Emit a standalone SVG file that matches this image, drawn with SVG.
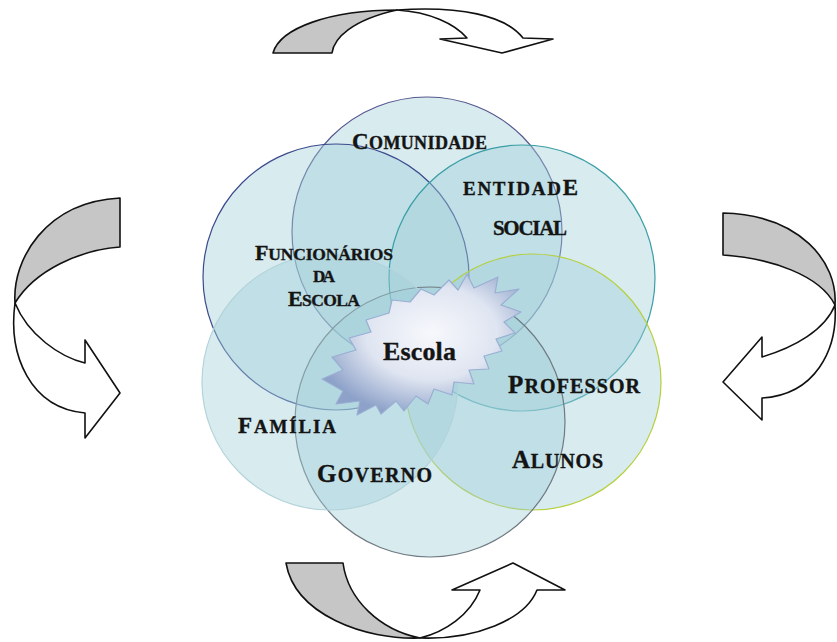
<svg xmlns="http://www.w3.org/2000/svg" width="837" height="642" viewBox="0 0 837 642">
  <defs>
    <radialGradient id="burst" cx="0.55" cy="0.42" r="0.6">
      <stop offset="0" stop-color="#f7f8fc"/>
      <stop offset="0.55" stop-color="#dfe5f1"/>
      <stop offset="1" stop-color="#8ea2c9"/>
    </radialGradient>
  </defs>
  <style>
    .ring { fill: #a3d0da; fill-opacity: 0.42; stroke-width: 1.2; }
    .lbl { font-family: "Liberation Serif", "Times New Roman", serif; font-weight: bold; fill: #141414; stroke: #141414; stroke-width: 0.35; }
    .back { fill: #c6c6c6; stroke: #111; stroke-width: 1.6; stroke-linejoin: round; }
    .front { fill: #fff; stroke: #111; stroke-width: 1.6; stroke-linejoin: round; }
  </style>
  <rect width="837" height="642" fill="#fff"/>

  <!-- overlapping circles of the school community -->
  <g id="comunidade">
    <circle class="ring" cx="427" cy="232" r="135" stroke="#55578f"/>
  </g>
  <g id="funcionarios">
    <circle class="ring" cx="336" cy="277" r="133" stroke="#3b4a8c"/>
  </g>
  <g id="entidade-social">
    <circle class="ring" cx="522" cy="278" r="133" stroke="#3a9ea6"/>
  </g>
  <g id="professor-alunos">
    <circle class="ring" cx="533" cy="382" r="128" stroke="#b5cf3c"/>
  </g>
  <g id="governo">
    <circle class="ring" cx="430" cy="422" r="135" stroke="#6f7a82"/>
  </g>
  <g id="familia">
    <circle class="ring" cx="330" cy="382" r="128" stroke="#b3d3da"/>
  </g>

  <!-- labels -->
  <g id="labels">
    <text class="lbl" x="352" y="149" textLength="135"><tspan font-size="23">C</tspan><tspan font-size="18">OMUNIDADE</tspan></text>
    <text class="lbl" x="463" y="195" textLength="115"><tspan font-size="19">ENTIDAD</tspan><tspan font-size="23">E</tspan></text>
    <text class="lbl" x="493" y="235" font-size="21" textLength="74">SOCIAL</text>
    <text class="lbl" x="255" y="260" textLength="138"><tspan font-size="22">F</tspan><tspan font-size="17.5">UNCIONÁRIOS</tspan></text>
    <text class="lbl" x="313" y="282" font-size="17" textLength="22">DA</text>
    <text class="lbl" x="288" y="306" textLength="72"><tspan font-size="22">E</tspan><tspan font-size="17.5">SCOLA</tspan></text>
    <text class="lbl" x="508" y="393" textLength="132"><tspan font-size="25">P</tspan><tspan font-size="20">ROFESSOR</tspan></text>
    <text class="lbl" x="238" y="433" textLength="98"><tspan font-size="23">F</tspan><tspan font-size="19">AMÍLIA</tspan></text>
    <text class="lbl" x="317" y="482" textLength="115"><tspan font-size="25">G</tspan><tspan font-size="20">OVERNO</tspan></text>
    <text class="lbl" x="512" y="468" textLength="91"><tspan font-size="25">A</tspan><tspan font-size="20">LUNOS</tspan></text>
  </g>

  <!-- central burst -->
  <g id="escola">
    <polygon fill="url(#burst)" stroke="#9aaed3" stroke-width="1.2" stroke-linejoin="round"
      points="467,274 474,288 498,277 495,293 519,289 501,305 521,312 504,322 515,333 496,339 502,351 484,356 489,369 469,370 474,384 454,382 452,395 434,389 428,404 416,396 404,411 396,401 381,414 376,405 357,415 360,401 336,404 343,391 322,379 343,370 332,357 356,350 349,338 371,332 366,320 389,313 392,300 410,302 421,289 434,295 449,280 458,290"/>
    <text class="lbl" x="383" y="360" font-size="26" textLength="73">Escola</text>
  </g>

  <!-- cycle arrows around the circles -->
  <g id="cycle-arrows">
    <!-- top -->
    <path class="back" d="M273,53 L332,53 C334,38 352,20 397,10 C330,10 280,28 273,53 Z"/>
    <path class="front" d="M397,10 C460,6 505,15 523,38 L553,39 L502,53 L440,39 L467,38 C455,24 430,12 397,10 Z"/>
    <!-- right -->
    <path class="back" d="M723,213 L723,255 C770,258 820,275 835,305 C838,262 800,215 723,213 Z"/>
    <path class="front" d="M835,305 C838,350 815,395 762,398 L762,420 L723,382 L762,337 L762,357 C795,347 825,330 835,305 Z"/>
    <!-- bottom -->
    <path class="back" d="M286,563 L343,563 C348,600 380,630 420,638 C365,640 295,615 286,563 Z"/>
    <path class="front" d="M420,638 C475,640 525,620 537,590 L565,590 L513,563 L452,590 L480,590 C470,615 445,632 420,638 Z"/>
    <!-- left -->
    <path class="back" d="M120,198 L120,247 C80,250 35,270 15,303 C12,260 45,202 120,198 Z"/>
    <path class="front" d="M15,303 C8,355 30,408 85,413 L85,438 L120,393 L85,340 L85,363 C60,357 28,335 15,303 Z"/>
  </g>
</svg>
